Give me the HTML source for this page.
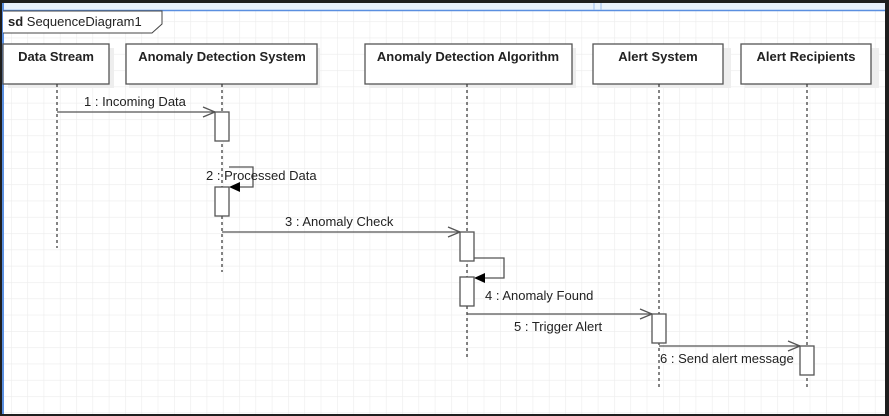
<!DOCTYPE html>
<html><head><style>
html,body{margin:0;padding:0;background:#222;}
svg{display:block;}
text{font-family:"Liberation Sans",sans-serif;fill:#222;}
</style></head><body>
<svg width="889" height="416" viewBox="0 0 889 416" xmlns="http://www.w3.org/2000/svg">
<defs>
<pattern id="g" x="11" y="5" width="16.3" height="16.3" patternUnits="userSpaceOnUse">
<path d="M0 0H16.3M0 0V16.3" stroke="#ececec" stroke-width="1.2" fill="none"/>
</pattern>
</defs>
<rect x="0" y="0" width="889" height="416" fill="#1e1e1e"/>
<rect x="2" y="3" width="883" height="411" fill="#fff"/>
<rect x="2" y="3" width="883" height="411" fill="url(#g)"/>
<rect x="2" y="3" width="883" height="8" fill="#e9f1fc"/>
<line x1="2" y1="10.5" x2="885" y2="10.5" stroke="#5a8fe0" stroke-width="1.5"/>
<line x1="3" y1="3" x2="3" y2="414" stroke="#5a8fe0" stroke-width="2"/>
<line x1="594" y1="3" x2="594" y2="10" stroke="#9bbcec"/>
<line x1="601" y1="3" x2="601" y2="10" stroke="#9bbcec"/>
<path d="M3 11H162V24L152 33H3" fill="#fff" stroke="#444" stroke-width="1"/>
<text x="8" y="26" font-size="13"><tspan font-weight="bold">sd</tspan> SequenceDiagram1</text>
<g stroke="#555" stroke-width="1.3" fill="#fff">
<rect x="8" y="48" width="106" height="40" fill="#eee" stroke="none"/>
<rect x="129" y="48" width="191" height="40" fill="#eee" stroke="none"/>
<rect x="369" y="48" width="207" height="40" fill="#eee" stroke="none"/>
<rect x="597" y="48" width="134" height="40" fill="#eee" stroke="none"/>
<rect x="745" y="48" width="134" height="40" fill="#eee" stroke="none"/>
<rect x="3" y="44" width="106" height="40"/>
<rect x="126" y="44" width="191" height="40"/>
<rect x="365" y="44" width="207" height="40"/>
<rect x="593" y="44" width="130" height="40"/>
<rect x="741" y="44" width="130" height="40"/>
</g>
<g font-size="13" font-weight="bold" text-anchor="middle">
<text x="56" y="61">Data Stream</text>
<text x="222" y="61">Anomaly Detection System</text>
<text x="468" y="61">Anomaly Detection Algorithm</text>
<text x="658" y="61">Alert System</text>
<text x="806" y="61">Alert Recipients</text>
</g>
<g stroke="#333" stroke-width="1.2" stroke-dasharray="3,3">
<line x1="57" y1="84" x2="57" y2="248"/>
<line x1="222" y1="84" x2="222" y2="272"/>
<line x1="467" y1="84" x2="467" y2="357"/>
<line x1="659" y1="84" x2="659" y2="389"/>
<line x1="807" y1="84" x2="807" y2="389"/>
</g>
<g stroke="#555" stroke-width="1.3" fill="none">
<line x1="57" y1="112" x2="215" y2="112"/><path d="M203 107L215 112L203 117"/>
<path d="M229 167H253V187H232"/>
<line x1="222" y1="232" x2="460" y2="232"/><path d="M448 227L460 232L448 237"/>
<path d="M474 258H504V278H477"/>
<line x1="467" y1="314" x2="652" y2="314"/><path d="M640 309L652 314L640 319"/>
<line x1="659" y1="346" x2="800" y2="346"/><path d="M788 341L800 346L788 351"/>
</g>
<path d="M229 187L240 182V192Z" fill="#000"/>
<path d="M474 278L485 273V283Z" fill="#000"/>
<g stroke="#555" stroke-width="1.3" fill="#fff">
<rect x="215" y="112" width="14" height="29"/>
<rect x="215" y="187" width="14" height="29"/>
<rect x="460" y="232" width="14" height="29"/>
<rect x="460" y="277" width="14" height="29"/>
<rect x="652" y="314" width="14" height="29"/>
<rect x="800" y="346" width="14" height="29"/>
</g>
<g font-size="13">
<text x="84" y="106">1 : Incoming Data</text>
<text x="206" y="180">2 : Processed Data</text>
<text x="285" y="226">3 : Anomaly Check</text>
<text x="485" y="300">4 : Anomaly Found</text>
<text x="514" y="331">5 : Trigger Alert</text>
<text x="660" y="363">6 : Send alert message</text>
</g>
</svg>
</body></html>
